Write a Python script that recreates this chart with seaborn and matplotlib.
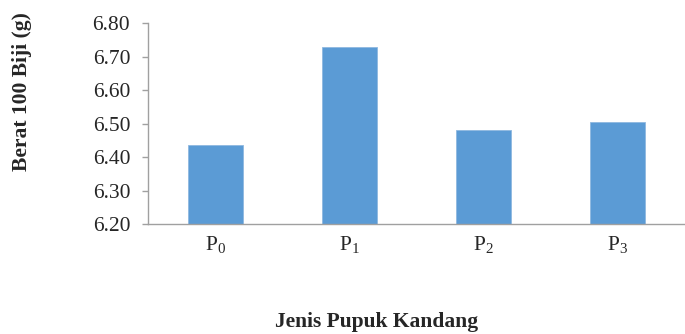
import matplotlib
matplotlib.use("Agg")
import matplotlib.pyplot as plt
import seaborn as sns
import pandas as pd

# values
treatments = [r"$\mathregular{P_0}$", r"$\mathregular{P_1}$", r"$\mathregular{P_2}$", r"$\mathregular{P_3}$"]
berat = [6.435, 6.727, 6.482, 6.505]
y_ticks = [6.20, 6.30, 6.40, 6.50, 6.60, 6.70, 6.80]

df = pd.DataFrame({"perlakuan": treatments, "berat": berat})

sns.set_style("white")
plt.rcParams["font.family"] = ["Liberation Serif", "DejaVu Serif"]
plt.rcParams["mathtext.fontset"] = "custom"
plt.rcParams["mathtext.rm"] = "Liberation Serif"

fig, ax = plt.subplots(figsize=(6.85, 3.34), dpi=100)
fig.subplots_adjust(left=148 / 685, right=1.0, top=1 - 23 / 334, bottom=1 - 224 / 334)

sns.barplot(data=df, x="perlakuan", y="berat", color="#5b9bd5", width=0.41,
            saturation=1, ax=ax)
for p in ax.patches:
    p.set_edgecolor("#8fb8e0")
    p.set_linewidth(0.6)

ax.set_ylim(6.20, 6.80)
ax.set_yticks(y_ticks)
ax.set_yticklabels([f"{v:.2f}" for v in y_ticks], fontsize=15.5)
ax.tick_params(axis="x", labelsize=15.5, length=0, pad=7)
ax.tick_params(axis="y", length=4.3, width=1, color="#a0a0a0", left=True, pad=8.5)
ax.set_xlabel("")
ax.set_ylabel("")
sns.despine(ax=ax, top=True, right=True)
for s in ["left", "bottom"]:
    ax.spines[s].set_color("#a0a0a0")
    ax.spines[s].set_linewidth(1)

fig.text(377 / 685, 1 - 322 / 334, "Jenis Pupuk Kandang", fontsize=15.5,
         fontweight="bold", ha="center", va="center")
fig.text(22 / 685, 1 - 92 / 334, "Berat 100 Biji (g)", fontsize=15.5,
         fontweight="bold", ha="center", va="center", rotation=90)

plt.savefig("out.png", dpi=100)
plt.close(fig)
